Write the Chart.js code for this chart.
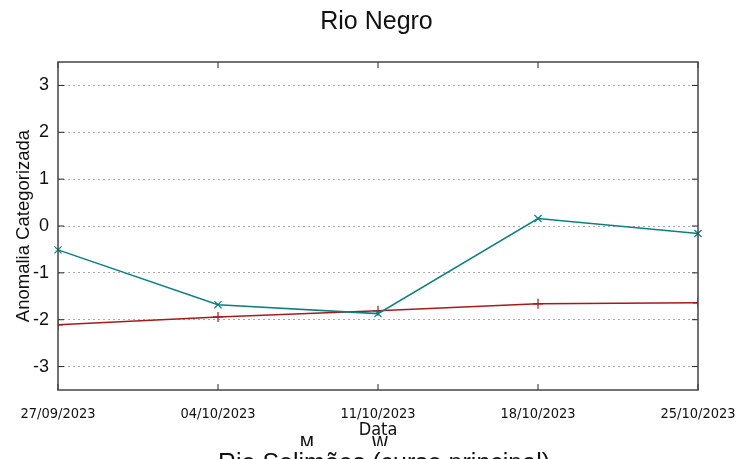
<!DOCTYPE html>
<html>
<head>
<meta charset="utf-8">
<script src="https://cdn.jsdelivr.net/npm/chart.js@4/dist/chart.umd.min.js"></script>
<style>
    html, body { margin: 0; padding: 0; background: #fff; }
    #wrap { width: 753px; height: 459px; }
</style>
</head>
<body>
<div id="wrap"><canvas id="chart" width="753" height="459"></canvas></div>
<script>
// Chart data
const dates = ['27/09/2023', '04/10/2023', '11/10/2023', '18/10/2023', '25/10/2023'];
const seriesM = [-2.11, -1.94, -1.81, -1.66, -1.64];
const seriesW = [-0.51, -1.68, -1.87, 0.16, -0.16];
const yTicks = [-3, -2, -1, 0, 1, 2, 3];

const narrow = "'Liberation Sans Narrow', 'DejaVu Sans Condensed', sans-serif";
const sans = "'Liberation Sans', Arial, sans-serif";
const red = '#a81a1a';
const teal = '#0a8080';

// Frame, inward ticks, legend and the clipped title of the next panel
const gnuplotLook = {
    id: 'gnuplotLook',
    afterDraw(chart) {
        const ctx = chart.ctx;
        const area = chart.chartArea;
        const x = chart.scales.x;
        const y = chart.scales.y;
        ctx.save();
        ctx.strokeStyle = '#222';
        ctx.lineWidth = 1;
        y.ticks.forEach(t => {
            const py = y.getPixelForValue(t.value);
            ctx.beginPath();
            ctx.moveTo(area.left, py); ctx.lineTo(area.left + 6, py);
            ctx.moveTo(area.right, py); ctx.lineTo(area.right - 6, py);
            ctx.stroke();
        });
        dates.forEach((d, i) => {
            const px = x.getPixelForValue(i);
            ctx.beginPath();
            ctx.moveTo(px, area.bottom); ctx.lineTo(px, area.bottom - 6);
            ctx.moveTo(px, area.top); ctx.lineTo(px, area.top + 6);
            ctx.stroke();
        });
        ctx.strokeStyle = '#444';
        ctx.lineWidth = 1.5;
        ctx.strokeRect(area.left, area.top, area.right - area.left, area.bottom - area.top);

        // legend (cut off by the panel below)
        ctx.save();
        ctx.beginPath();
        ctx.rect(0, 0, chart.width, 446);
        ctx.clip();
        ctx.font = '19px ' + narrow;
        ctx.textAlign = 'center';
        ctx.textBaseline = 'alphabetic';
        const items = [
            { ds: chart.data.datasets[0], tx: 307, mx: 346 },
            { ds: chart.data.datasets[1], tx: 380, mx: 414 }
        ];
        items.forEach(it => {
            ctx.fillStyle = '#111';
            ctx.fillText(it.ds.label, it.tx, 450);
            Chart.helpers.drawPoint(ctx, {
                pointStyle: it.ds.pointStyle, radius: 5, borderWidth: 1.2
            }, it.mx, 451);
            ctx.strokeStyle = it.ds.borderColor;
            ctx.lineWidth = 1.2;
            ctx.stroke();
        });
        ctx.restore();

        ctx.fillStyle = '#111';
        ctx.font = '25px ' + sans;
        ctx.textAlign = 'center';
        ctx.textBaseline = 'alphabetic';
        ctx.fillText('Rio Solimões (curso principal)', 384, 471);
        ctx.restore();
    }
};

new Chart(document.getElementById('chart'), {
    type: 'line',
    data: {
        labels: dates,
        datasets: [{
            label: 'M',
            data: seriesM,
            borderColor: red,
            borderWidth: 1.5,
            pointStyle: 'cross',
            pointRadius: 5,
            pointBorderWidth: 1.2,
            pointBorderColor: red,
            pointBackgroundColor: 'transparent',
            tension: 0,
            clip: 0,
            order: 1
        }, {
            label: 'W',
            data: seriesW,
            borderColor: teal,
            borderWidth: 1.5,
            pointStyle: 'crossRot',
            pointRadius: 5,
            pointBorderWidth: 1.2,
            pointBorderColor: teal,
            pointBackgroundColor: 'transparent',
            tension: 0,
            clip: false,
            order: 0
        }]
    },
    options: {
        responsive: false,
        animation: false,
        layout: { padding: 0 },
        plugins: {
            legend: { display: false },
            tooltip: { enabled: false },
            title: {
                display: true,
                text: 'Rio Negro',
                color: '#111',
                font: { family: sans, size: 25, weight: 'normal' },
                padding: { top: 7, bottom: 25 }
            }
        },
        scales: {
            x: {
                type: 'category',
                offset: false,
                grid: { display: false, drawTicks: false },
                border: { display: false },
                ticks: {
                    color: '#111',
                    font: { family: narrow, size: 14.5 },
                    padding: 16,
                    maxRotation: 0,
                    autoSkip: false
                },
                title: {
                    display: true,
                    text: 'Data',
                    color: '#111',
                    font: { family: narrow, size: 18 },
                    padding: { top: 0, bottom: 18 }
                },
                afterFit(scale) { scale.height = 69; }
            },
            y: {
                min: -3.5,
                max: 3.5,
                afterBuildTicks(scale) {
                    scale.ticks = yTicks.map(v => ({ value: v }));
                },
                grid: {
                    color: '#a8a8a8',
                    lineWidth: 1,
                    drawTicks: false
                },
                border: { display: false, dash: [2, 3] },
                ticks: {
                    color: '#111',
                    font: { family: sans, size: 18 },
                    padding: 9
                },
                title: {
                    display: true,
                    text: 'Anomalia Categorizada',
                    color: '#111',
                    font: { family: sans, size: 18.5 },
                    padding: { top: 13, bottom: 0 }
                },
                afterFit(scale) { scale.width = 58; }
            },
            // empty right axis, only reserves the margin right of the frame
            yRight: {
                position: 'right',
                min: -3.5,
                max: 3.5,
                grid: { display: false, drawTicks: false },
                border: { display: false },
                ticks: { display: false },
                afterFit(scale) { scale.width = 55; }
            }
        }
    },
    plugins: [gnuplotLook]
});
</script>
</body>
</html>
